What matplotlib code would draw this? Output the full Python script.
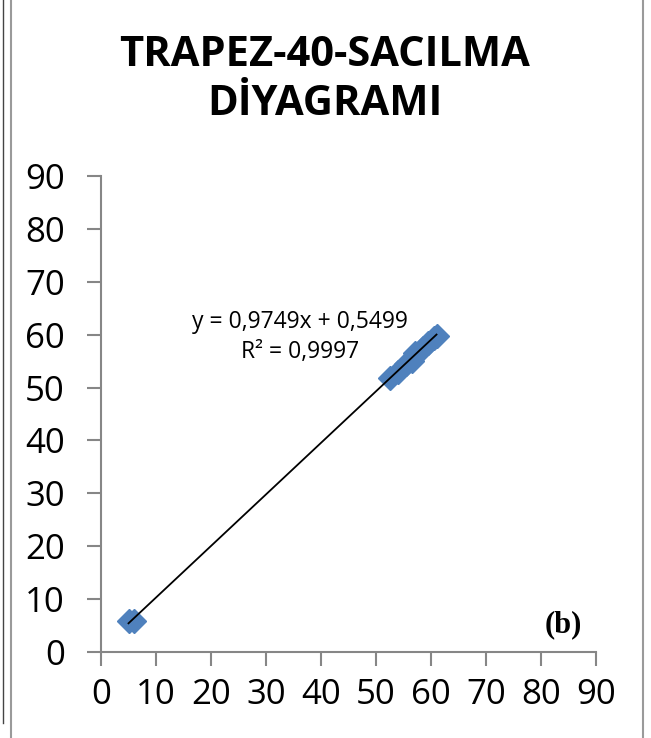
import numpy as np
import matplotlib as mpl
mpl.use('Agg')
import matplotlib.pyplot as plt
from matplotlib.lines import Line2D

# scatter values
xs = [5.0, 6.0, 52.5, 54.0, 55.5, 56.5, 57.0, 58.5, 59.5, 60.5, 61.0]
ys = [5.8, 5.9, 51.8, 53.0, 54.5, 55.0, 56.5, 57.5, 58.5, 59.3, 59.8]
slope = 0.9749
intercept = 0.5499
r2 = 0.9997
ticks = list(range(0, 100, 10))

title = 'TRAPEZ-40-SACILMA\nDİYAGRAMI'
fam = 'Open Sans'

fig = plt.figure(figsize=(6.51,7.38), dpi=100)
ax = fig.add_axes([101/651, 1-652/738, 495/651, 476/738])

ax.plot(xs, ys, linestyle='', marker='D', markersize=12, color='#4F81BD', zorder=2)
xl = np.array([min(xs), max(xs)])
ax.plot(xl, slope*xl+intercept, color='black', linewidth=1.3, zorder=3)

ax.set_xlim(0, 90)
ax.set_ylim(0, 90)
ax.set_xticks(ticks)
ax.set_yticks(ticks)
for s in ['top','right']:
    ax.spines[s].set_visible(False)
for s in ['left','bottom']:
    ax.spines[s].set_color('#868686')
    ax.spines[s].set_linewidth(1.5)
ax.tick_params(axis='both', direction='out', length=10, width=1.5, color='#868686',
               labelsize=25)
ax.tick_params(axis='y', pad=16)
ax.tick_params(axis='x', pad=9)
for lab in ax.get_xticklabels()+ax.get_yticklabels():
    lab.set_family(fam)

eq = 'y = 0,9749x + 0,5499\nR² = 0,9997'
ax.text(300/651, 1-337/738, eq, transform=fig.transFigure, ha='center', va='center',
        fontsize=16.5, family=fam, linespacing=1.35)
ax.text(563/651, 1-625/738, '(b)', transform=fig.transFigure, ha='center', va='center',
        fontsize=22, family='Liberation Serif', fontweight='bold')

fig.text(325/651, 1-80/738, title, ha='center', va='center', fontsize=30,
         family=fam, fontweight='bold', linespacing=1.25)

# frame lines of the sheet
fig.add_artist(Line2D([11/651, 11/651], [0, 1], color='#9a9a9a', linewidth=1.5))
fig.add_artist(Line2D([3/651, 3/651], [0.02, 1], color='#444444', linewidth=1.0))
fig.add_artist(Line2D([643/651, 643/651], [0, 1], color='#9a9a9a', linewidth=1.5))

fig.savefig('out.png', dpi=100)
plt.close()
